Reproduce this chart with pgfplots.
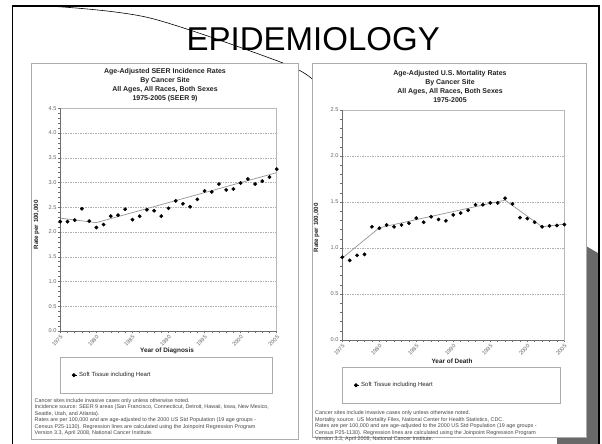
\documentclass[border=0pt]{standalone}
\usepackage{pgfplots}
\pgfplotsset{compat=1.18}
\usepackage{fontspec}
\setmainfont{Liberation Sans}
\definecolor{shadowgray}{RGB}{105,105,105}
\definecolor{txt}{RGB}{35,35,35}
\definecolor{axgray}{RGB}{110,110,110}
\definecolor{gridgray}{RGB}{175,175,175}
\definecolor{trend}{RGB}{150,150,150}
\pgfplotstableread{
year rate
1975 2.21
1976 2.21
1977 2.24
1978 2.47
1979 2.22
1980 2.09
1981 2.15
1982 2.32
1983 2.34
1984 2.46
1985 2.25
1986 2.32
1987 2.45
1988 2.43
1989 2.32
1990 2.48
1991 2.63
1992 2.57
1993 2.51
1994 2.66
1995 2.83
1996 2.81
1997 2.97
1998 2.85
1999 2.87
2000 2.99
2001 3.07
2002 2.97
2003 3.03
2004 3.11
2005 3.27
}\incidence
\pgfplotstableread{
year rate
1975 0.90
1976 0.865
1977 0.92
1978 0.93
1979 1.23
1980 1.215
1981 1.25
1982 1.23
1983 1.25
1984 1.27
1985 1.325
1986 1.28
1987 1.34
1988 1.31
1989 1.295
1990 1.36
1991 1.38
1992 1.41
1993 1.47
1994 1.47
1995 1.49
1996 1.49
1997 1.54
1998 1.48
1999 1.33
2000 1.32
2001 1.28
2002 1.23
2003 1.24
2004 1.245
2005 1.255
}\mortality
\pgfplotsset{
  slidechart/.style={
    scale only axis, anchor=south west,
    xmin=1975, xmax=2005, ymin=0,
    xtick={1975,1980,...,2005}, minor x tick num=4,
    minor y tick num=4,
    tick pos=left, tick align=outside,
    major tick length=2.5pt, minor tick length=2pt,
    tick style={axgray, line width=0.5pt},
    axis line style={gray!55, line width=0.5pt},
    ymajorgrids, major grid style={gridgray, dash pattern=on 1.5pt off 1pt, line width=0.5pt},
    /pgf/number format/assume math mode=true,
    tick label style={font=\fontsize{5.6}{6.5}\selectfont, text=gray!80!black},
    yticklabel style={/pgf/number format/fixed, /pgf/number format/fixed zerofill, /pgf/number format/precision=1, inner sep=1.2pt},
    xticklabel style={/pgf/number format/1000 sep={}, rotate=45, anchor=north east, inner sep=0.8pt},
    clip=false,
    legend style={at={(0,0)}, anchor=north west, draw=gray!65, line width=0.6pt,
      inner xsep=11pt, inner ysep=13pt, font=\fontsize{6}{7}\selectfont, text=txt},
    legend image code/.code={\path (0pt,0pt) -- (5pt,0pt); \draw[##1] plot coordinates {(2pt,0pt)};},
  },
  datamarks/.style={only marks, mark=*, mark size=1.7pt, black},
  trendline/.style={trend, line width=0.7pt, forget plot},
}
\begin{document}
\begin{tikzpicture}[x=1pt,y=1pt]
\useasboundingbox (0,0) rectangle (602,444);
\clip (0,0) rectangle (602,444);
\fill[white] (0,0) rectangle (602,444);
\begin{scope}[yshift=444pt, y=-1pt]
  % slide frame
  \draw[black, line width=1.6pt] (12.5,6.3) rectangle (598.8,470);
  % shadow
  \fill[shadowgray] (586,246) -- (597.9,253) -- (597.9,450) -- (557,450) -- (557,437) -- (586,437) -- cycle;
  % decorative curve
  \draw[black, line width=0.6pt] plot[smooth] coordinates {(55,6.5) (150,18) (283,63) (312,79)};
  % title
  \node[anchor=base west, inner sep=0pt, font=\fontsize{33}{36}\selectfont] at (186.5,51) {EPIDEMIOLOGY};
  % panels
  \filldraw[fill=white, draw=gray!65, line width=0.7pt] (31.5,63.5) rectangle (298,439);
  \filldraw[fill=white, draw=gray!65, line width=0.7pt] (312,63.5) rectangle (586,437.5);
  % chart titles
  \node[font=\bfseries\fontsize{7}{9}\selectfont, align=center, text=txt, inner sep=0pt] at (165,85.5)
    {Age-Adjusted SEER Incidence Rates\\By Cancer Site\\All Ages, All Races, Both Sexes\\1975-2005 (SEER 9)};
  \node[font=\bfseries\fontsize{7}{9}\selectfont, align=center, text=txt, inner sep=0pt] at (450,86.7)
    {Age-Adjusted U.S. Mortality Rates\\By Cancer Site\\All Ages, All Races, Both Sexes\\1975-2005};
  % axis labels
  \node[rotate=90, font=\bfseries\fontsize{6.2}{7}\selectfont, text=txt] at (36.5,225) {Rate per 100,000};
  \node[rotate=90, font=\bfseries\fontsize{6.2}{7}\selectfont, text=txt] at (316.5,228) {Rate per 100,000};
  \node[font=\bfseries\fontsize{6.4}{7}\selectfont, text=txt] at (167,351) {Year of Diagnosis};
  \node[font=\bfseries\fontsize{6.4}{7}\selectfont, text=txt] at (452,361) {Year of Death};
  % footnotes
  \node[anchor=north west, align=left, inner sep=0pt, font=\fontsize{5.4}{6.5}\selectfont, text=gray!55!black] at (34.5,398.3)
    {Cancer sites include invasive cases only unless otherwise noted.\\
     Incidence source: SEER 9 areas (San Francisco, Connecticut, Detroit, Hawaii, Iowa, New Mexico,\\
     Seattle, Utah, and Atlanta).\\
     Rates are per 100,000 and are age-adjusted to the 2000 US Std Population (19 age groups -\\
     Census P25-1130). Regression lines are calculated using the Joinpoint Regression Program\\
     Version 3.3, April 2008, National Cancer Institute.};
  \node[anchor=north west, align=left, inner sep=0pt, font=\fontsize{5.4}{6.5}\selectfont, text=gray!55!black] at (315,410.8)
    {Cancer sites include invasive cases only unless otherwise noted.\\
     Mortality source: US Mortality Files, National Center for Health Statistics, CDC.\\
     Rates are per 100,000 and are age-adjusted to the 2000 US Std Population (19 age groups -\\
     Census P25-1130). Regression lines are calculated using the Joinpoint Regression Program\\
     Version 3.3, April 2008, National Cancer Institute.};
\end{scope}

% left chart
\begin{axis}[slidechart, at={(60.3pt,113pt)}, width=216.4pt, height=222.7pt,
  ymax=4.5, ytick={0,0.5,1,1.5,2,2.5,3,3.5,4,4.5},
  legend style={yshift=-26pt}]
  \addplot[trendline] coordinates {(1975,2.28) (1980,2.19) (2005,3.20)};
  \addplot[datamarks] table[x=year, y=rate] {\incidence};
  \addlegendentry{\makebox[180pt][l]{Soft Tissue including Heart}}
  \draw[axgray, line width=0.7pt] (rel axis cs:0,1) -- (rel axis cs:0,0) -- (rel axis cs:1,0);
\end{axis}

% right chart
\begin{axis}[slidechart, at={(342.3pt,104pt)}, width=222pt, height=230pt,
  ymax=2.5, ytick={0,0.5,1,1.5,2,2.5},
  legend style={yshift=-27pt}]
  \addplot[trendline] coordinates {(1975,0.89) (1980,1.22) (1997,1.52) (2002,1.23) (2005,1.26)};
  \addplot[datamarks] table[x=year, y=rate] {\mortality};
  \addlegendentry{\makebox[186pt][l]{Soft Tissue including Heart}}
  \draw[axgray, line width=0.7pt] (rel axis cs:0,1) -- (rel axis cs:0,0) -- (rel axis cs:1,0);
\end{axis}
\end{tikzpicture}
\end{document}
